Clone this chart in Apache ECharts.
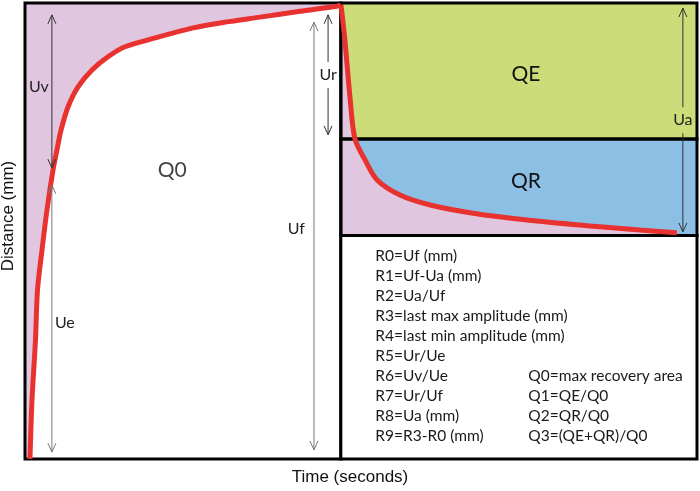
<!DOCTYPE html>
<html>
<head>
<meta charset="utf-8">
<script src="https://cdn.jsdelivr.net/npm/echarts@6/dist/echarts.min.js"></script>
<style>
  html, body { margin: 0; padding: 0; background: #fff; }
  #chart { width: 700px; height: 491px; }
</style>
</head>
<body>
<div id="chart"></div>
<script>
// loading phase (time, distance) in % of the axes
const loadTime = [0.74, 1.04, 1.56, 1.86, 2.53, 3.27, 4.17, 4.76, 5.36, 6.40, 7.89, 9.97, 12.35, 14.88, 19.79, 24.85, 29.76, 34.97, 40.92, 46.43, 47.02];
const loadDist = [0, 12.9, 26.1, 37.1, 45.8, 54.6, 63.4, 67.8, 72.1, 77.2, 81.6, 85.3, 88.2, 90.4, 92.5, 94.5, 95.8, 96.9, 98.2, 99.3, 99.6];
// recovery phase
const recTime = [47.02, 47.6, 48.4, 49.1, 50.6, 52.4, 55.8, 60.3, 66.7, 74.7, 84.1, 91.5, 97.0];
const recDist = [99.6, 91.9, 78.7, 70.2, 65.6, 61.2, 57.9, 55.7, 53.9, 52.4, 51.1, 50.2, 49.6];

// levels
const unloadAt = 47;    // end of loading
const qeBottom = 70.2;  // Ur level
const qrBottom = 49;    // residual level

// measurement arrows
const arrowNames = ['Uv', 'Ue', 'Uf', 'Ur', 'Ua'];
const arrowX = [4.0, 4.0, 43.0, 45.1, 97.9];
const arrowTop = [97.4, 60.1, 95.8, 97.4, 98.9];
const arrowBottom = [63.8, 1.5, 2.0, 71.1, 49.8];
const arrowLabelY = [81.6, 29.8, 50.4, 84.2, 74.3];
const arrowSide = ['left', 'right', 'left', 'center', 'center'];
const arrowColor = ['#333', '#777', '#777', '#333', '#333'];

// legend text
const boxLeft = ['R0=Uf (mm)', 'R1=Uf-Ua (mm)', 'R2=Ua/Uf', 'R3=last max amplitude (mm)',
  'R4=last min amplitude (mm)', 'R5=Ur/Ue', 'R6=Uv/Ue', 'R7=Ur/Uf', 'R8=Ua (mm)', 'R9=R3-R0 (mm)'];
const boxRight = ['', '', '', '', '', '', 'Q0=max recovery area', 'Q1=QE/Q0', 'Q2=QR/Q0', 'Q3=(QE+QR)/Q0'];

const PURPLE = '#e0c7df';
const GREEN = '#cbdc79';
const BLUE = '#8bbfe4';
const RED = '#e8322f';
const FONT = 'Lato';

const zip = (a, b) => a.map((v, i) => [v, b[i]]);

const chart = echarts.init(document.getElementById('chart'));

const option = {
  animation: false,
  grid: { left: 25, right: 3, top: 3, bottom: 32, outerBoundsMode: 'none' },
  xAxis: {
    type: 'value', min: 0, max: 100,
    name: 'Time (seconds)', nameLocation: 'middle', nameGap: 10,
    nameTextStyle: { color: '#111', fontSize: 17, fontFamily: 'Liberation Sans', padding: [0, 22, 0, 0] },
    axisLine: { show: false }, axisTick: { show: false },
    axisLabel: { show: false }, splitLine: { show: false }
  },
  yAxis: {
    type: 'value', min: 0, max: 100,
    name: 'Distance (mm)', nameLocation: 'middle', nameGap: 8,
    nameTextStyle: { color: '#111', fontSize: 17, fontFamily: 'Liberation Sans', padding: [0, 0, 0, 30] },
    axisLine: { show: false }, axisTick: { show: false },
    axisLabel: { show: false }, splitLine: { show: false }
  },
  series: [
    {
      // purple above the loading curve
      type: 'line', z: 2, symbol: 'none', smooth: 0.3,
      data: [[0, 0]].concat(zip(loadTime, loadDist)),
      lineStyle: { width: 0 },
      areaStyle: { color: PURPLE, opacity: 1, origin: 'end' },
      markArea: {
        silent: true,
        itemStyle: { borderWidth: 0 },
        label: { show: true, position: 'inside', color: '#111', fontSize: 21, fontFamily: FONT },
        data: [
          [{ name: 'QE', xAxis: unloadAt, yAxis: qeBottom, itemStyle: { color: GREEN }, label: { offset: [7, 3] } },
           { xAxis: 100, yAxis: 100 }],
          [{ name: 'QR', xAxis: unloadAt, yAxis: qrBottom, itemStyle: { color: BLUE }, label: { offset: [7, -6] } },
           { xAxis: 100, yAxis: qeBottom }]
        ]
      }
    },
    {
      // purple under the recovery curve
      type: 'line', z: 2, symbol: 'none', smooth: 0.3,
      data: zip(recTime, recDist),
      lineStyle: { width: 0 },
      areaStyle: { color: PURPLE, opacity: 1, origin: qrBottom }
    },
    {
      type: 'line', z: 6, symbol: 'none', smooth: 0.3,
      data: zip(loadTime, loadDist),
      lineStyle: { color: RED, width: 5 },
      markArea: {
        silent: true, z: 4,
        itemStyle: { color: 'rgba(0,0,0,0)', borderColor: '#000', borderWidth: 3 },
        label: { show: false },
        data: [
          [{ xAxis: 0, yAxis: 0 }, { xAxis: unloadAt, yAxis: 100 }],
          [{ xAxis: unloadAt, yAxis: qeBottom }, { xAxis: 100, yAxis: 100 }],
          [{ xAxis: unloadAt, yAxis: qrBottom }, { xAxis: 100, yAxis: qeBottom }],
          [{
            xAxis: unloadAt, yAxis: 0, itemStyle: { color: '#fff' },
            label: {
              show: true, position: 'insideTopLeft', distance: 0, padding: [12, 0, 0, 36],
              formatter: () => boxLeft.map((t, i) => '{a|' + t + '}' + (boxRight[i] ? '{b|' + boxRight[i] + '}' : '')).join('\n'),
              rich: {
                a: { width: 153, fontSize: 15.5, lineHeight: 20, color: '#1a1a1a', fontFamily: FONT },
                b: { fontSize: 15.5, lineHeight: 20, color: '#1a1a1a', fontFamily: FONT }
              }
            }
          }, { xAxis: 100, yAxis: qrBottom }]
        ]
      }
    },
    {
      type: 'line', z: 6, symbol: 'none', smooth: 0.3,
      data: zip(recTime, recDist),
      lineStyle: { color: RED, width: 5 }
    },
    {
      type: 'scatter', z: 3, symbolSize: 0,
      data: [{ name: 'Q0', value: [21.9, 63.4] }],
      label: { show: true, position: 'inside', formatter: '{b}', color: '#111', fontSize: 21, fontFamily: FONT }
    },
    {
      type: 'custom', z: 7, silent: true,
      data: arrowNames.map((n, i) => [arrowX[i], arrowTop[i], arrowBottom[i], arrowLabelY[i]]),
      renderItem: (params, api) => {
        const i = params.dataIndex;
        const top = api.coord([api.value(0), api.value(1)]);
        const bot = api.coord([api.value(0), api.value(2)]);
        const ly = api.coord([api.value(0), api.value(3)])[1];
        const x = top[0];
        const col = arrowColor[i];
        const seg = (y1, y2) => ({ type: 'line', shape: { x1: x, y1: y1, x2: x, y2: y2 }, style: { stroke: col, lineWidth: 1 } });
        const head = (y, d) => ({
          type: 'polyline',
          shape: { points: [[x - 4, y + d * 9], [x, y], [x + 4, y + d * 9]] },
          style: { stroke: col, fill: null, lineWidth: 1 }
        });
        const kids = [];
        if (arrowSide[i] === 'center') {
          kids.push(seg(top[1], ly - 13), seg(ly + 13, bot[1]));
        } else {
          kids.push(seg(top[1], bot[1]));
        }
        kids.push(head(top[1], 1), head(bot[1], -1));
        const tx = arrowSide[i] === 'left' ? x - (i === 2 ? 9 : 3) : arrowSide[i] === 'right' ? x + 3 : x;
        const al = arrowSide[i] === 'left' ? 'right' : arrowSide[i] === 'right' ? 'left' : 'center';
        kids.push({
          type: 'text', x: tx, y: ly,
          style: { text: arrowNames[i], fill: '#222', font: '16px ' + FONT, align: al, verticalAlign: 'middle' }
        });
        return { type: 'group', children: kids };
      }
    }
  ]
};

chart.setOption(option);
</script>
</body>
</html>
